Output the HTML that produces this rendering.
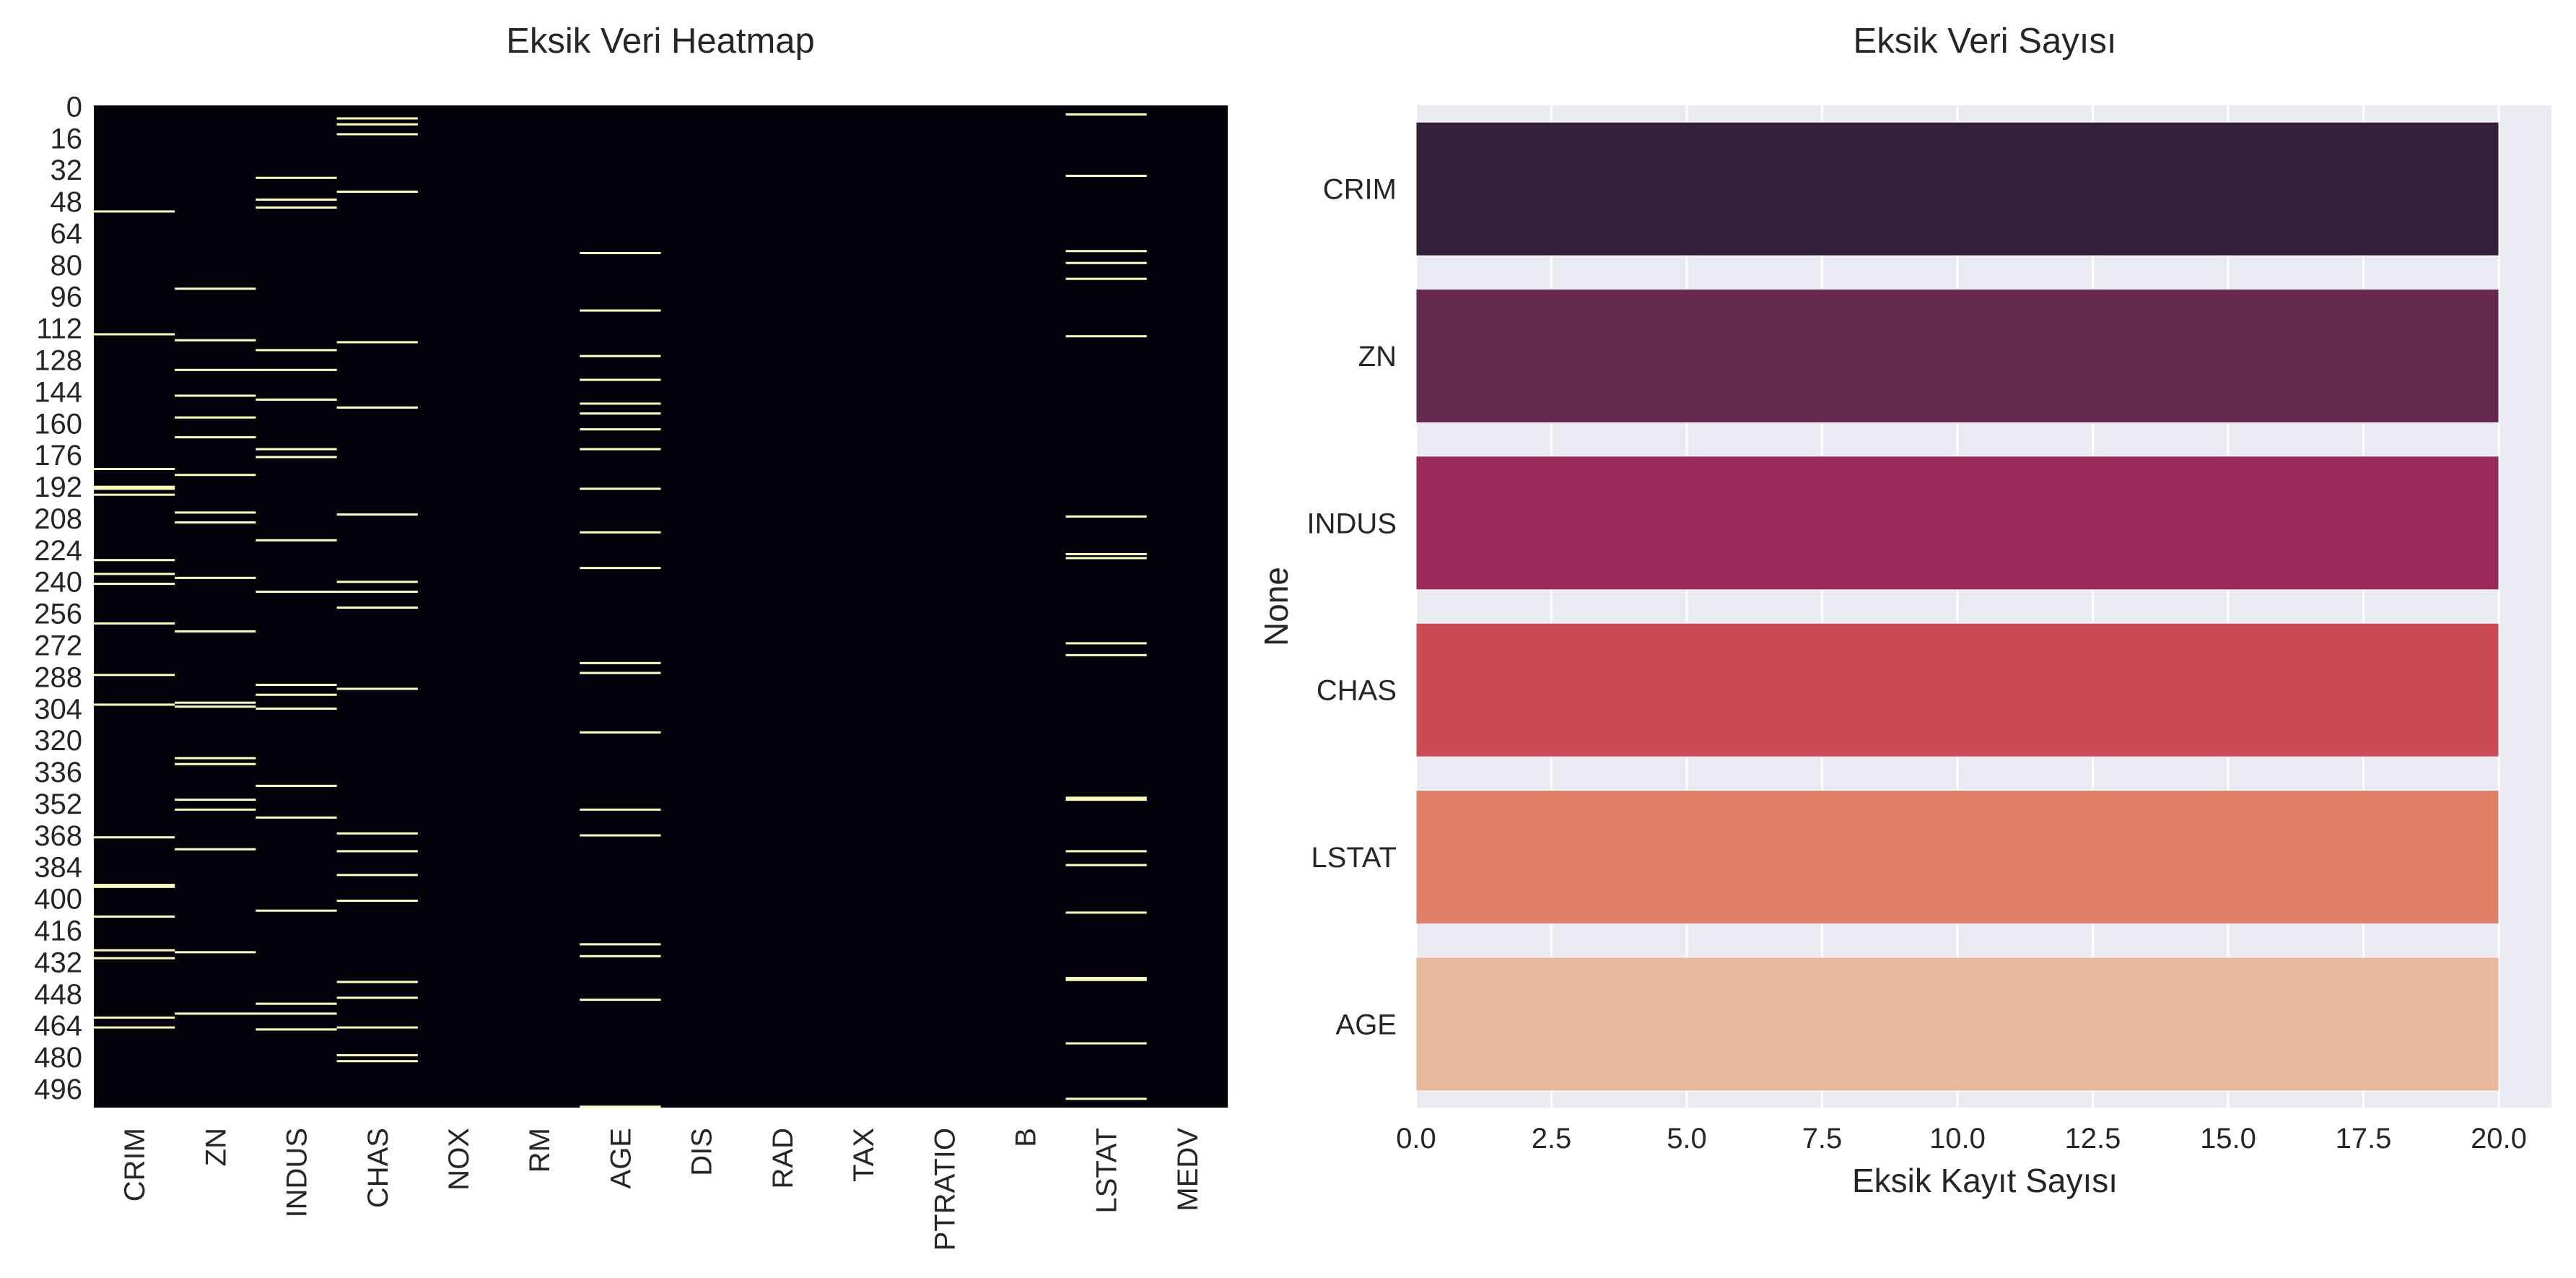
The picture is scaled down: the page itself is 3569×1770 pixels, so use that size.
<!DOCTYPE html>
<html><head><meta charset="utf-8"><style>
html,body{margin:0;padding:0;background:#fff;}
svg{display:block;font-family:"Liberation Sans",sans-serif;}
</style></head><body>
<svg id="chart" width="3569" height="1770" viewBox="0 0 3569 1770" xmlns="http://www.w3.org/2000/svg">
<text x="915" y="73" font-size="49" text-anchor="middle" fill="#262626">Eksik Veri Heatmap</text>
<text x="2750" y="73" font-size="49" text-anchor="middle" fill="#262626">Eksik Veri Sayısı</text>
<g id="heat"></g>
<g id="bars"></g>
</svg>
<script>
const heatColumns = ["CRIM","ZN","INDUS","CHAS","NOX","RM","AGE","DIS","RAD","TAX","PTRATIO","B","LSTAT","MEDV"];
const heatRowCount = 506;
const heatYTicks = [0,16,32,48,64,80,96,112,128,144,160,176,192,208,224,240,256,272,288,304,320,336,352,368,384,400,416,432,448,464,480,496];
const missCRIM = [53,115,183,192,193,196,229,236,241,261,287,302,369,393,394,409,426,430,460,465];
const missZN = [92,118,133,146,157,167,186,205,210,238,265,301,303,329,332,350,355,375,427,458];
const missINDUS = [36,47,51,123,133,148,173,177,219,245,292,297,304,343,359,406,453,458,466,148];
const missCHAS = [6,9,14,43,119,152,206,240,245,253,294,367,376,388,401,442,450,465,479,482];
const missAGE = [74,103,126,138,150,155,163,173,193,215,233,281,286,316,355,368,423,429,451,505];
const missLSTAT = [4,35,73,79,87,116,207,226,228,271,277,349,350,376,383,407,440,441,473,501];

const barCategories = ["CRIM","ZN","INDUS","CHAS","LSTAT","AGE"];
const barValues = [20,20,20,20,20,20];
const barColors = ["#351e3a","#662950","#9a2a5a","#cb4a55","#df8068","#e8b79c"];
const barXTicks = ["0.0","2.5","5.0","7.5","10.0","12.5","15.0","17.5","20.0"];

const NS="http://www.w3.org/2000/svg";
function mk(tag, attrs, parent){const e=document.createElementNS(NS,tag);for(const k in attrs)e.setAttribute(k,attrs[k]);parent.appendChild(e);return e;}

// Heatmap
const heat=document.getElementById('heat');
const hL=130,hR=1701,hT=146,hB=1534;
const colW=(hR-hL)/heatColumns.length;
const rowH=(hB-hT)/heatRowCount;
const hx=c=>hL+c*colW;
const hy=r=>hT+r*rowH;
let bg=mk('rect',{x:hL,y:hT,width:hR-hL,height:hB-hT,fill:'#03020a'},heat);


const missing={CRIM:missCRIM,ZN:missZN,INDUS:missINDUS,CHAS:missCHAS,AGE:missAGE,LSTAT:missLSTAT};
heatColumns.forEach((col,ci)=>{
  const rows=missing[col]||[];
  rows.forEach(r=>{
    const c=mk('rect',{x:hx(ci),y:hy(r),width:colW,height:rowH+0.3,fill:'#fbfdbf'},heat);
    
    
  });
  const t=mk('text',{x:0,y:0,'font-size':40,fill:'#262626','text-anchor':'end',transform:`translate(${hx(ci+0.5)+14},1562) rotate(-90)`},heat);
  t.textContent=col;
  
  
});
heatYTicks.forEach(v=>{
  const t=mk('text',{x:114,y:hy(v+0.5)+14,'font-size':40,fill:'#262626','text-anchor':'end'},heat);
  t.textContent=v;
  
  
});

// Bar chart
const bars=document.getElementById('bars');
const bL=1962,bR=3535,bT=146,bB=1534;
const x0=1962,x20=3462;
const bx=v=>x0+(x20-x0)*v/20;
const band=(bB-bT)/barCategories.length;
const by=i=>bT+i*band;
let pbg=mk('rect',{x:bL,y:bT,width:bR-bL,height:bB-bT,fill:'#eaeaf2'},bars);


barXTicks.forEach(s=>{
  const v=parseFloat(s);
  const g=mk('line',{x1:bx(v),x2:bx(v),y1:bT,y2:bB,stroke:'#fff','stroke-width':3},bars);
  
  
  const t=mk('text',{x:bx(v),y:1590,'font-size':40,fill:'#262626','text-anchor':'middle'},bars);
  t.textContent=s;
  
  
});
barCategories.forEach((c,i)=>{
  const r=mk('rect',{x:bx(0),y:by(i)+band*0.1,width:bx(barValues[i])-bx(0),height:band*0.8,fill:barColors[i],stroke:'#fff','stroke-width':1},bars);
  
  
  const t=mk('text',{x:1935,y:by(i+0.5)+14,'font-size':40,fill:'#262626','text-anchor':'end'},bars);
  t.textContent=c;
  
  
});
let xl=mk('text',{x:2750,y:1651,'font-size':46,fill:'#262626','text-anchor':'middle'},bars);
xl.textContent='Eksik Kayıt Sayısı';


let yl=mk('text',{x:0,y:0,'font-size':46,fill:'#262626','text-anchor':'middle',transform:`translate(1784,${(bT+bB)/2}) rotate(-90)`},bars);
yl.textContent='None';


</script>
</body></html>
